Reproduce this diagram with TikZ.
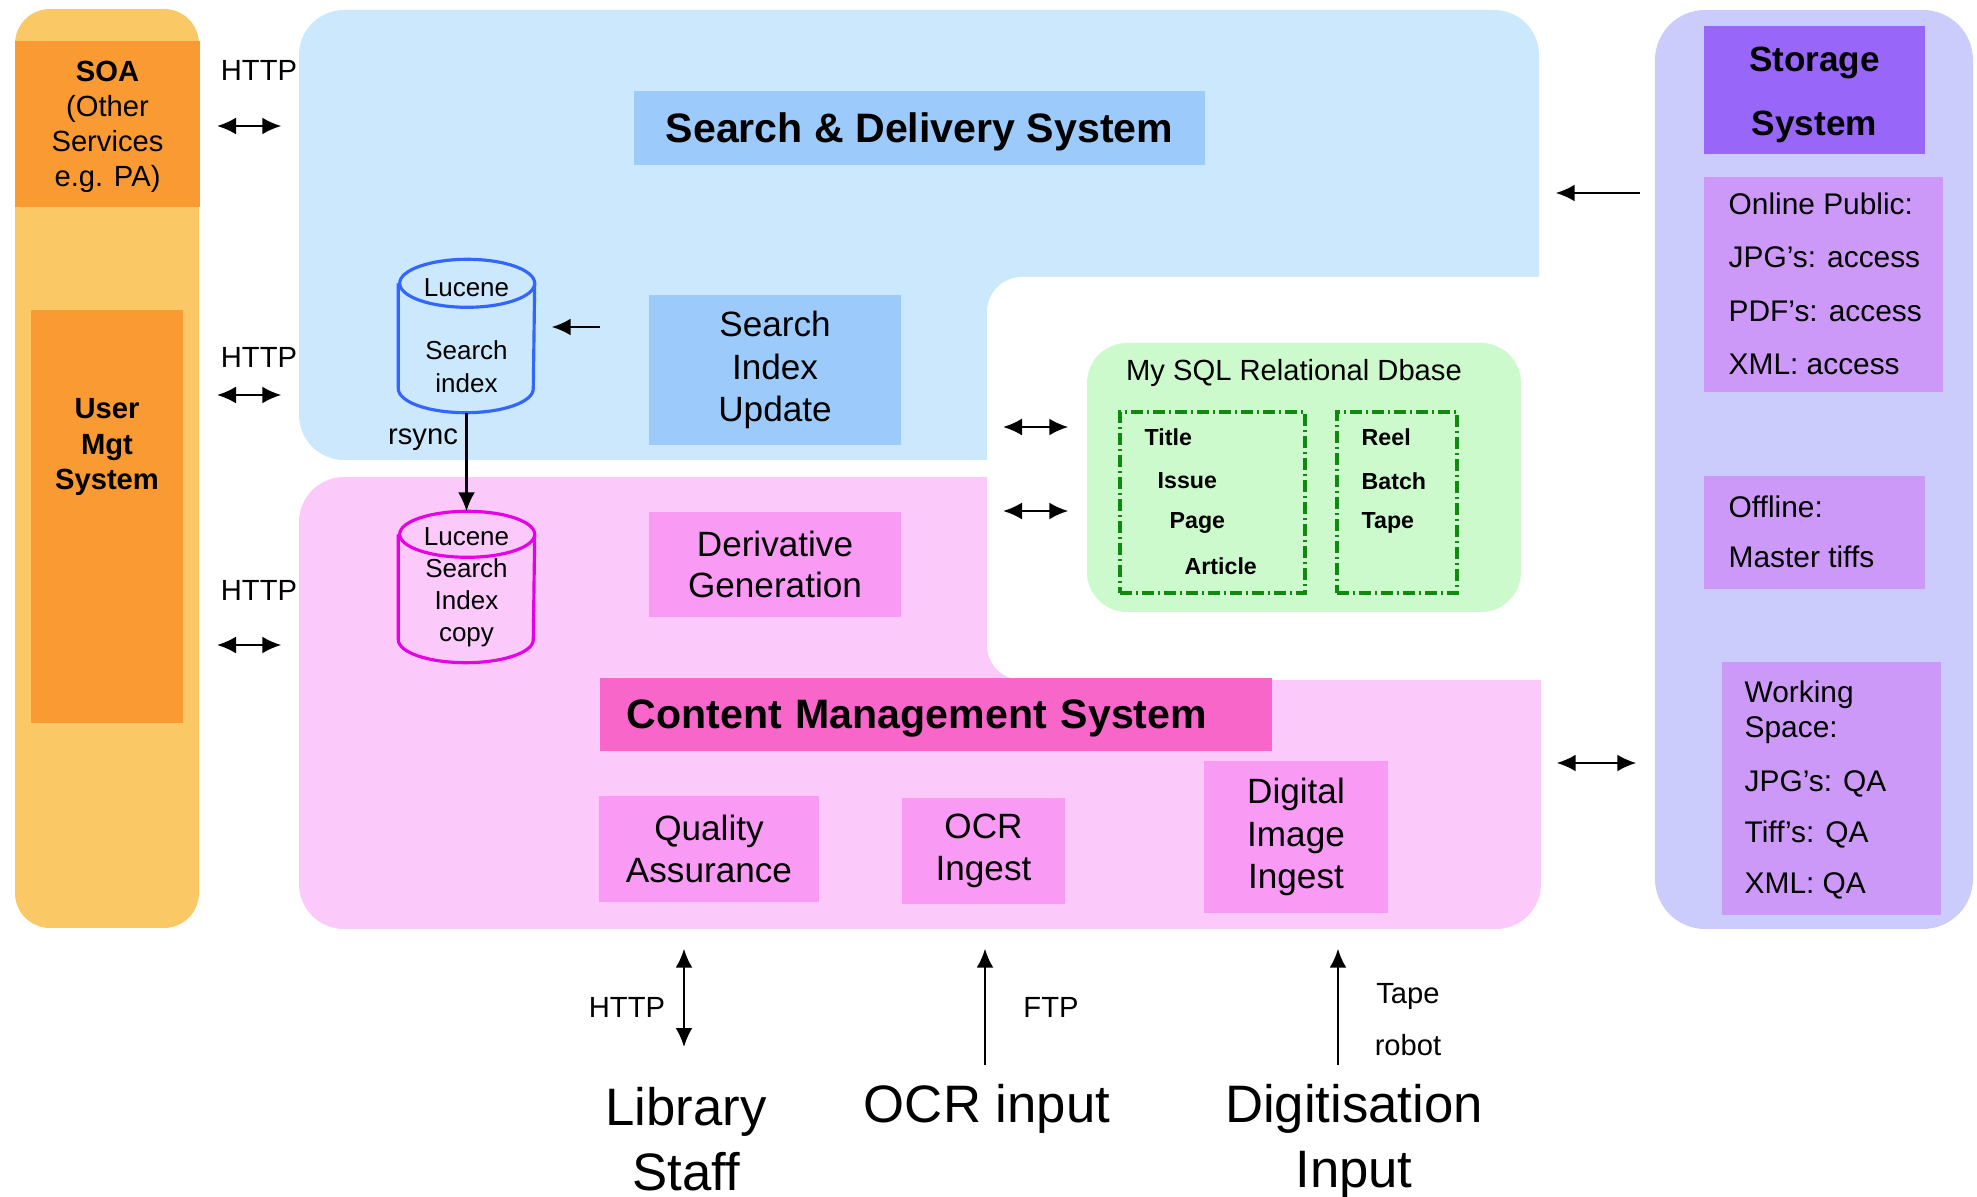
\documentclass[tikz,border=0pt]{standalone}
\usepackage{fontspec}
\setmainfont{Liberation Sans}
\usetikzlibrary{arrows.meta}
\definecolor{orlight}{HTML}{FAC864}
\definecolor{ordark}{HTML}{F99A33}
\definecolor{bluebg}{HTML}{CCE8FC}
\definecolor{bluebox}{HTML}{9CCAFA}
\definecolor{pinkbg}{HTML}{FBCAFB}
\definecolor{pinkbox}{HTML}{F99BF5}
\definecolor{cmsbox}{HTML}{F766C8}
\definecolor{greenbg}{HTML}{CCFACC}
\definecolor{dbgreen}{HTML}{0E8A0E}
\definecolor{storbg}{HTML}{CCCCFC}
\definecolor{stortop}{HTML}{9966FA}
\definecolor{storbox}{HTML}{CC99F8}
\definecolor{cylblue}{HTML}{3366FF}
\definecolor{cylpink}{HTML}{E600E6}
\newcommand{\fsz}[2]{\fontsize{#1}{#2}\selectfont}

\begin{document}
\begin{tikzpicture}[x=0.1mm,y=-0.1mm,
  region/.style={inner sep=0, rounded corners=4.5mm},
  box/.style={inner sep=0, align=center},
  sbox/.style={fill=storbox, inner sep=0},
  stxt/.style={inner sep=0, anchor=west, align=left},
  lbl/.style={inner sep=0, align=center, font=\fsz{8.3}{10}},
  item/.style={inner sep=0, anchor=west, font=\bfseries\fsz{6.6}{8}},
  big/.style={inner sep=0, align=center, font=\fsz{15}{18.5}},
  tbl/.style={draw=dbgreen, line width=0.9pt, dash pattern=on 1.2mm off 0.4mm on 0.2mm off 0.4mm},
  arr/.style={line width=0.7pt, -{Latex[length=1.9mm,width=1.7mm]}},
  dblarr/.style={line width=0.7pt, {Latex[length=1.9mm,width=1.7mm]}-{Latex[length=1.9mm,width=1.7mm]}}]
\useasboundingbox (0,0) rectangle (1977,1197);

\node[region, fill=orlight, rounded corners=3.5mm, minimum width=18.4mm, minimum height=91.9mm] (orcol) at (107,468.5) {};
\node[box, fill=ordark, minimum width=18.5mm, minimum height=16.6mm] (soa) at (107.5,124) {};
\node[box, font=\fsz{8.3}{10}] (soalbl) at (107.5,127) {\textbf{SOA}\\(Other\\Services\\e.g. PA)};
\node[box, fill=ordark, minimum width=15.2mm, minimum height=41.3mm] (umgt) at (107,516.5) {};
\node[box, font=\bfseries\fsz{8.3}{10}] (umgtlbl) at (107,447) {User\\Mgt\\System};

\node[region, fill=bluebg, minimum width=124mm, minimum height=45mm] (sdsreg) at (919,235) {};
\node[region, fill=pinkbg, minimum width=124.2mm, minimum height=45.2mm] (cmsreg) at (920,703) {};
\fill[white, rounded corners=3.5mm] (987,277) rectangle (1600,680);

\node[box, fill=bluebox, minimum width=57.1mm, minimum height=7.4mm, text depth=0pt, font=\bfseries\fsz{11.7}{14}] (sdstitle) at (919.5,128) {Search \& Delivery System};
\node[box, fill=bluebox, minimum width=25.2mm, minimum height=15mm, font=\fsz{10}{12.2}] (siu) at (775,370) {Search\\Index\\Update};
\node[box, fill=pinkbox, minimum width=25.2mm, minimum height=10.5mm, font=\fsz{10}{11.6}] (deriv) at (775,564.5) {Derivative\\Generation};
\node[box, fill=cmsbox, anchor=west, inner xsep=2.7mm, text width=61.8mm, minimum height=7.3mm, text depth=0pt, align=left, font=\bfseries\fsz{11.7}{14}] (cmstitle) at (599,714.5) {Content Management System};
\node[box, fill=pinkbox, minimum width=22mm, minimum height=10.6mm, font=\fsz{10}{12}] (qa) at (709,849) {Quality\\Assurance};
\node[box, fill=pinkbox, minimum width=16.3mm, minimum height=10.6mm, font=\fsz{10}{12}] (ocring) at (983.5,851) {OCR\\Ingest};
\node[box, fill=pinkbox, minimum width=18.4mm, minimum height=15.2mm, font=\fsz{10}{12}] (diging) at (1296,837) {Digital\\Image\\Ingest};

\node[box, minimum width=13.5mm, minimum height=15.2mm, font=\fsz{7.4}{9.4}] (lucA) at (466.5,336) {Lucene\\[8.5pt]Search\\index};
\draw[cylblue, line width=0.9pt] ([yshift=-2.4mm]lucA.north west) -- ([yshift=2.4mm]lucA.south west)
  arc[start angle=180, end angle=360, x radius=6.75mm, y radius=2.4mm] -- ([yshift=-2.4mm]lucA.north east)
  arc[start angle=0, end angle=360, x radius=6.75mm, y radius=2.4mm];
\node[box, minimum width=13.5mm, minimum height=15mm, font=\fsz{7.4}{9.1}] (lucB) at (466.5,587) {Lucene\\Search\\Index\\copy};
\draw[cylpink, line width=0.9pt] ([yshift=-2.3mm]lucB.north west) -- ([yshift=2.3mm]lucB.south west)
  arc[start angle=180, end angle=360, x radius=6.75mm, y radius=2.3mm] -- ([yshift=-2.3mm]lucB.north east)
  arc[start angle=0, end angle=360, x radius=6.75mm, y radius=2.3mm];
\draw[arr] (lucA.south) -- (lucB.north);
\node[lbl] (rsync) at (423,440) {rsync};
\coordinate (updtail) at (600,327);
\draw[arr, shorten >=1.7mm] (updtail) -- (lucA.east |- updtail);

\node[region, fill=greenbg, rounded corners=4mm, minimum width=43.4mm, minimum height=26.9mm] (dbase) at (1304,477.5) {};
\node[lbl] (dbtitle) at (1294,373) {My SQL Relational Dbase};
\node[tbl, minimum width=18.5mm, minimum height=18.1mm] (tblA) at (1212.5,502.5) {};
\node[tbl, minimum width=12mm, minimum height=18.1mm] (tblB) at (1397,502.5) {};
\node[item] (title) at (1144,437) {Title};
\node[item] (issue) at (1157,481) {Issue};
\node[item] (page) at (1169,523) {Page};
\node[item] (article) at (1184,566) {Article};
\node[item] (reel) at (1361,437) {Reel};
\node[item] (batch) at (1361,481) {Batch};
\node[item] (tape) at (1361,523) {Tape};
\coordinate (dbinA) at (1003,427);
\coordinate (dbinB) at (1003,511);
\draw[dblarr, shorten >=1.8mm] (dbinA) -- (dbase.west |- dbinA);
\draw[dblarr, shorten >=1.8mm] (dbinB) -- (dbase.west |- dbinB);

\node[region, fill=storbg, rounded corners=5mm, minimum width=31.8mm, minimum height=91.9mm] (storcol) at (1814,469.5) {};
\node[sbox, fill=stortop, minimum width=22.1mm, minimum height=12.8mm] (stortitle) at (1814.5,90) {};
\node[box, font=\bfseries\fsz{10}{18}] (stortitlelbl) at (1814.5,95) {Storage\\System};
\node[sbox, minimum width=23.9mm, minimum height=21.5mm] (online) at (1823.5,284.5) {};
\node[stxt, font=\fsz{8.5}{15.2}] (onlinelbl) at (1728,284) {Online Public:\\JPG’s: access\\PDF’s: access\\XML: access};
\node[sbox, minimum width=22.1mm, minimum height=11.3mm] (offline) at (1814.5,532.5) {};
\node[stxt, font=\fsz{8.5}{14.2}] (offlinelbl) at (1728,532) {Offline:\\Master tiffs};
\node[sbox, minimum width=21.9mm, minimum height=25.3mm] (working) at (1831.5,788.5) {};
\node[stxt, font=\fsz{8.5}{10}] (workinglbl) at (1744,790) {Working\\Space:\\[5.2pt]JPG’s: QA\\[4.5pt]Tiff’s: QA\\[4.5pt]XML: QA};
\coordinate (storout) at (1640,193);
\draw[arr, shorten >=1.6mm] (storout) -- (storout -| sdsreg.east);
\coordinate (storrow) at (1600,763);
\draw[dblarr, shorten <=1.8mm, shorten >=1.5mm] (storcol.west |- storrow) -- (cmsreg.east |- storrow);

\node[lbl] (httpA) at (259,70) {HTTP};
\node[lbl] (httpB) at (259,357) {HTTP};
\node[lbl] (httpC) at (259,590) {HTTP};
\coordinate (httpArow) at (217,126);
\coordinate (httpBrow) at (217,395);
\coordinate (httpCrow) at (217,645);
\draw[dblarr, shorten >=1.7mm] (httpArow) -- (sdsreg.west |- httpArow);
\draw[dblarr, shorten >=1.7mm] (httpBrow) -- (sdsreg.west |- httpBrow);
\draw[dblarr, shorten >=1.7mm] (httpCrow) -- (cmsreg.west |- httpCrow);

\node[big] (libstaff) at (686,1139) {Library\\Staff};
\node[big] (ocrin) at (987,1109) {OCR input};
\node[big] (diginput) at (1354,1141) {Digitisation\\Input};
\coordinate (libfoot) at (684,1047);
\coordinate (ocrfoot) at (985,1065);
\coordinate (digfoot) at (1338,1065);
\draw[dblarr, shorten >=1.9mm] (libfoot) -- (libfoot |- cmsreg.south);
\draw[arr, shorten >=1.9mm] (ocrfoot) -- (ocrfoot |- cmsreg.south);
\draw[arr, shorten >=1.9mm] (digfoot) -- (digfoot |- cmsreg.south);
\node[lbl] (httpD) at (627,1007) {HTTP};
\node[lbl] (ftp) at (1051,1007) {FTP};
\node[lbl, font=\fsz{8.3}{14.8}] (taperobot) at (1408,1020) {Tape\\robot};
\end{tikzpicture}
\end{document}
